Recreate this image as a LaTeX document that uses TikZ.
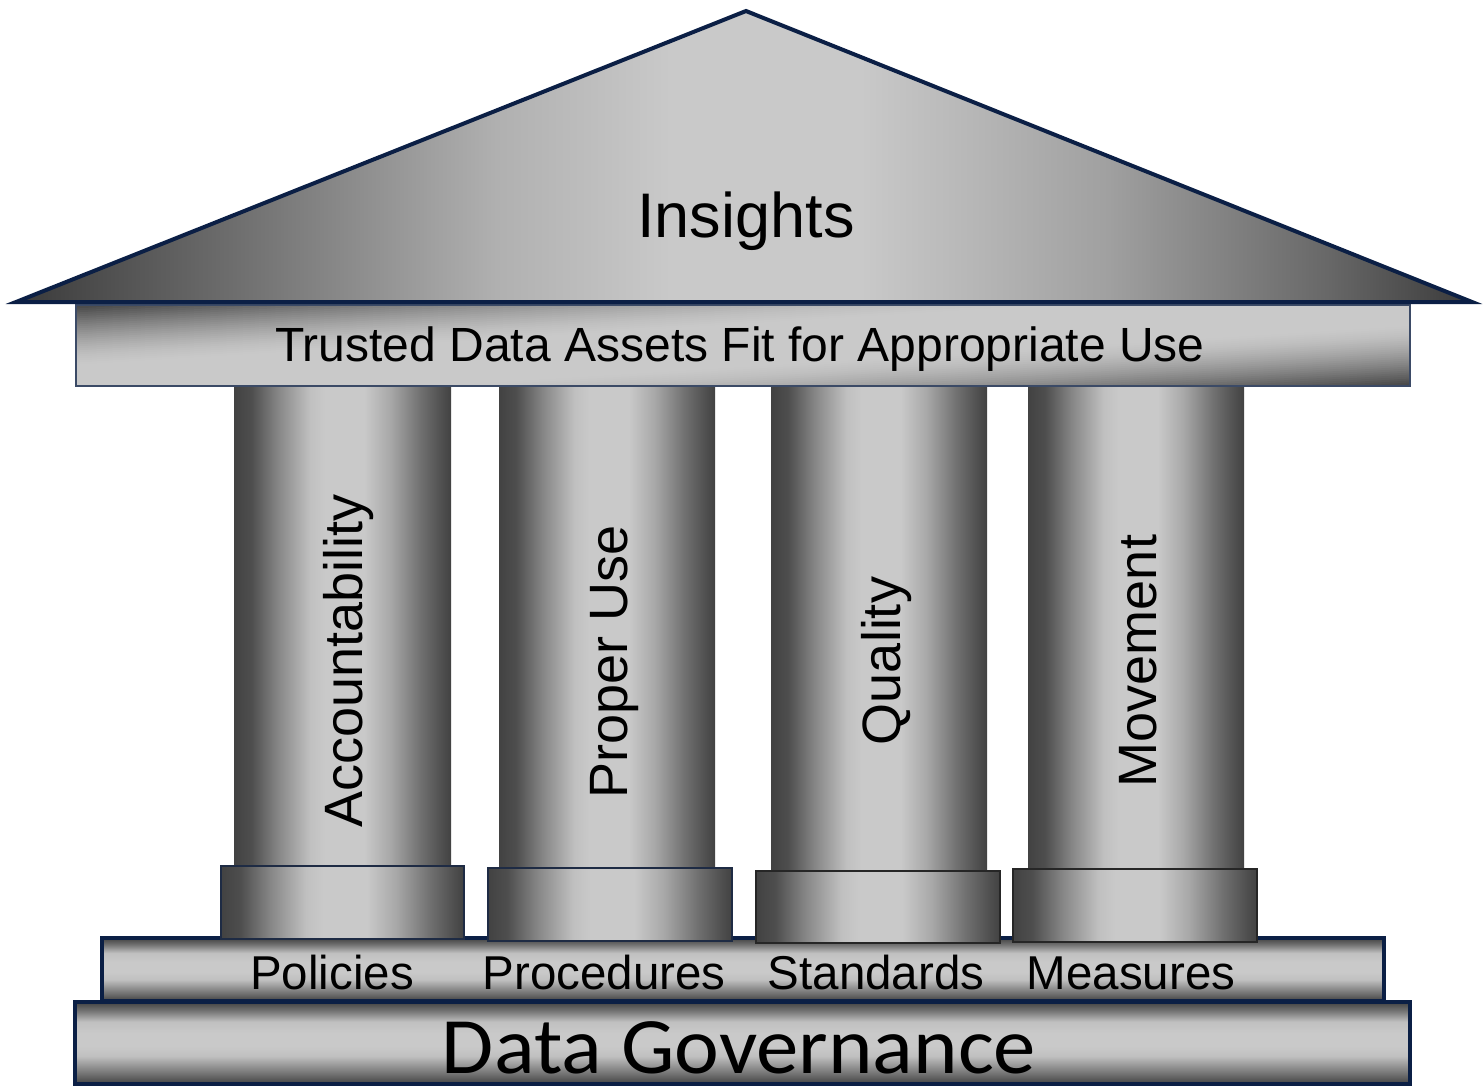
\documentclass[tikz,border=0pt]{standalone}
\usepackage{fontspec}
\setmainfont{Liberation Sans}
\newfontfamily\calfont{Carlito}
\definecolor{navy}{HTML}{0B1F45}
\definecolor{bandedge}{HTML}{3B4A66}
\definecolor{edgeA}{HTML}{1E2B44}
\definecolor{edgeB}{HTML}{262626}
\definecolor{gA}{HTML}{424242}
\definecolor{gB}{HTML}{4E4E4E}
\definecolor{gC}{HTML}{858585}
\definecolor{gD}{HTML}{C0C0C0}
\definecolor{gL}{HTML}{C9C9C9}
\definecolor{gE}{HTML}{A8A8A8}
\definecolor{gF}{HTML}{707070}
\definecolor{rA}{HTML}{3A3A3A}
\definecolor{rB}{HTML}{6E6E6E}
\definecolor{rC}{HTML}{B0B0B0}
\definecolor{rD}{HTML}{A0A0A0}
\definecolor{rE}{HTML}{686868}
\pgfdeclarehorizontalshading{colshade}{100bp}{color(0bp)=(gA); color(25bp)=(gA); color(29bp)=(gB); color(35bp)=(gC); color(42.5bp)=(gD); color(46bp)=(gL); color(55bp)=(gL); color(61bp)=(gE); color(68bp)=(gF); color(73bp)=(gB); color(75bp)=(gA); color(100bp)=(gA)}
\pgfdeclarehorizontalshading{roofshade}{100bp}{color(0bp)=(rA); color(25bp)=(rA); color(32.5bp)=(rB); color(41.5bp)=(rC); color(47.5bp)=(gL); color(54bp)=(gL); color(62.5bp)=(rD); color(70bp)=(rE); color(75bp)=(rA); color(100bp)=(rA)}
\pgfdeclareverticalshading{bandshade}{100bp}{color(0bp)=(gA); color(25bp)=(gA); color(31bp)=(gF); color(42bp)=(gD); color(48bp)=(gL); color(56bp)=(gL); color(63bp)=(gD); color(70bp)=(gF); color(75bp)=(gA); color(100bp)=(gA)}
\begin{document}
\begin{tikzpicture}[x=1pt,y=-1pt,
  txt/.style={inner sep=0pt, text=black},
  colfill/.style={shading=colshade},
  basebox/.style={shading=colshade, line width=1.5pt},
  bandbox/.style={shading=bandshade, draw=navy, line width=4pt},
  colfont/.style={font=\fontsize{54}{60}\selectfont},
  lowfont/.style={font=\fontsize{47.5}{52}\selectfont}]
\useasboundingbox (0,0) rectangle (1483,1087);
\fill[white] (0,0) rectangle (1483,1087);
% foundation bands
\shadedraw[bandbox] (75,1002) rectangle (1410,1084);
\shadedraw[bandbox, line width=3.5pt] (102,938) rectangle (1384,1001);
% column shafts
\shade[colfill] (234,380) rectangle (451,870);
\shade[colfill] (499,380) rectangle (715,870);
\shade[colfill] (771,380) rectangle (987,872);
\shade[colfill] (1028,380) rectangle (1244,871);
% column bases
\shadedraw[basebox, draw=edgeA] (221,866) rectangle (464,939);
\shadedraw[basebox, draw=edgeA] (488,868) rectangle (732,941);
\shadedraw[basebox, draw=edgeB] (756,871) rectangle (1000,943);
\shadedraw[basebox, draw=edgeB] (1013,869) rectangle (1257,942);
% entablature: diagonal gradient built from strips
\begin{scope}
\clip (76,305) rectangle (1410,386);
\foreach \v in {-86,-84,...,84} {
  \pgfmathsetmacro\aa{abs(\v+1)/82}
  \pgfmathsetmacro\pp{100*min(1,max(0,(\aa-0.25)/0.75))^1.5}
  \fill[gA!\pp!gL] (76,{345.5+\v+41}) -- (1410,{345.5+\v-41}) -- (1410,{345.5+\v+2.6-41}) -- (76,{345.5+\v+2.6+41}) -- cycle;
}
\end{scope}
\draw[draw=bandedge, line width=1.5pt] (76,305) rectangle (1410,386);
% roof
\shadedraw[shading=roofshade, draw=navy, line width=4pt, line join=miter] (746,11) -- (1472,302) -- (16,302) -- cycle;
% texts
\node[txt, font=\fontsize{63}{70}\selectfont, anchor=base] (insights) at (746,237) {Insights};
\node[txt, font=\fontsize{48}{52}\selectfont, anchor=base] (trusted) at (740,361) {Trusted Data Assets Fit for Appropriate Use};
\node[txt, colfont, rotate=90, anchor=base] (acc) at (362,661) {Accountability};
\node[txt, colfont, rotate=90, anchor=base] (proper) at (627,662) {Proper Use};
\node[txt, colfont, rotate=90, anchor=base] (quality) at (900,661) {Quality};
\node[txt, colfont, rotate=90, anchor=base] (movement) at (1156,661) {Movement};
\node[txt, lowfont, anchor=base] (policies) at (332,989) {Policies};
\node[txt, lowfont, anchor=base] (procedures) at (604,989) {Procedures};
\node[txt, lowfont, anchor=base] (standards) at (876,989) {Standards};
\node[txt, lowfont, anchor=base] (measures) at (1131,989) {Measures};
\node[txt, font=\calfont\fontsize{80}{86}\selectfont, anchor=base, xscale=1.06] (dg) at (739,1073) {Data Governance};
\end{tikzpicture}
\end{document}
